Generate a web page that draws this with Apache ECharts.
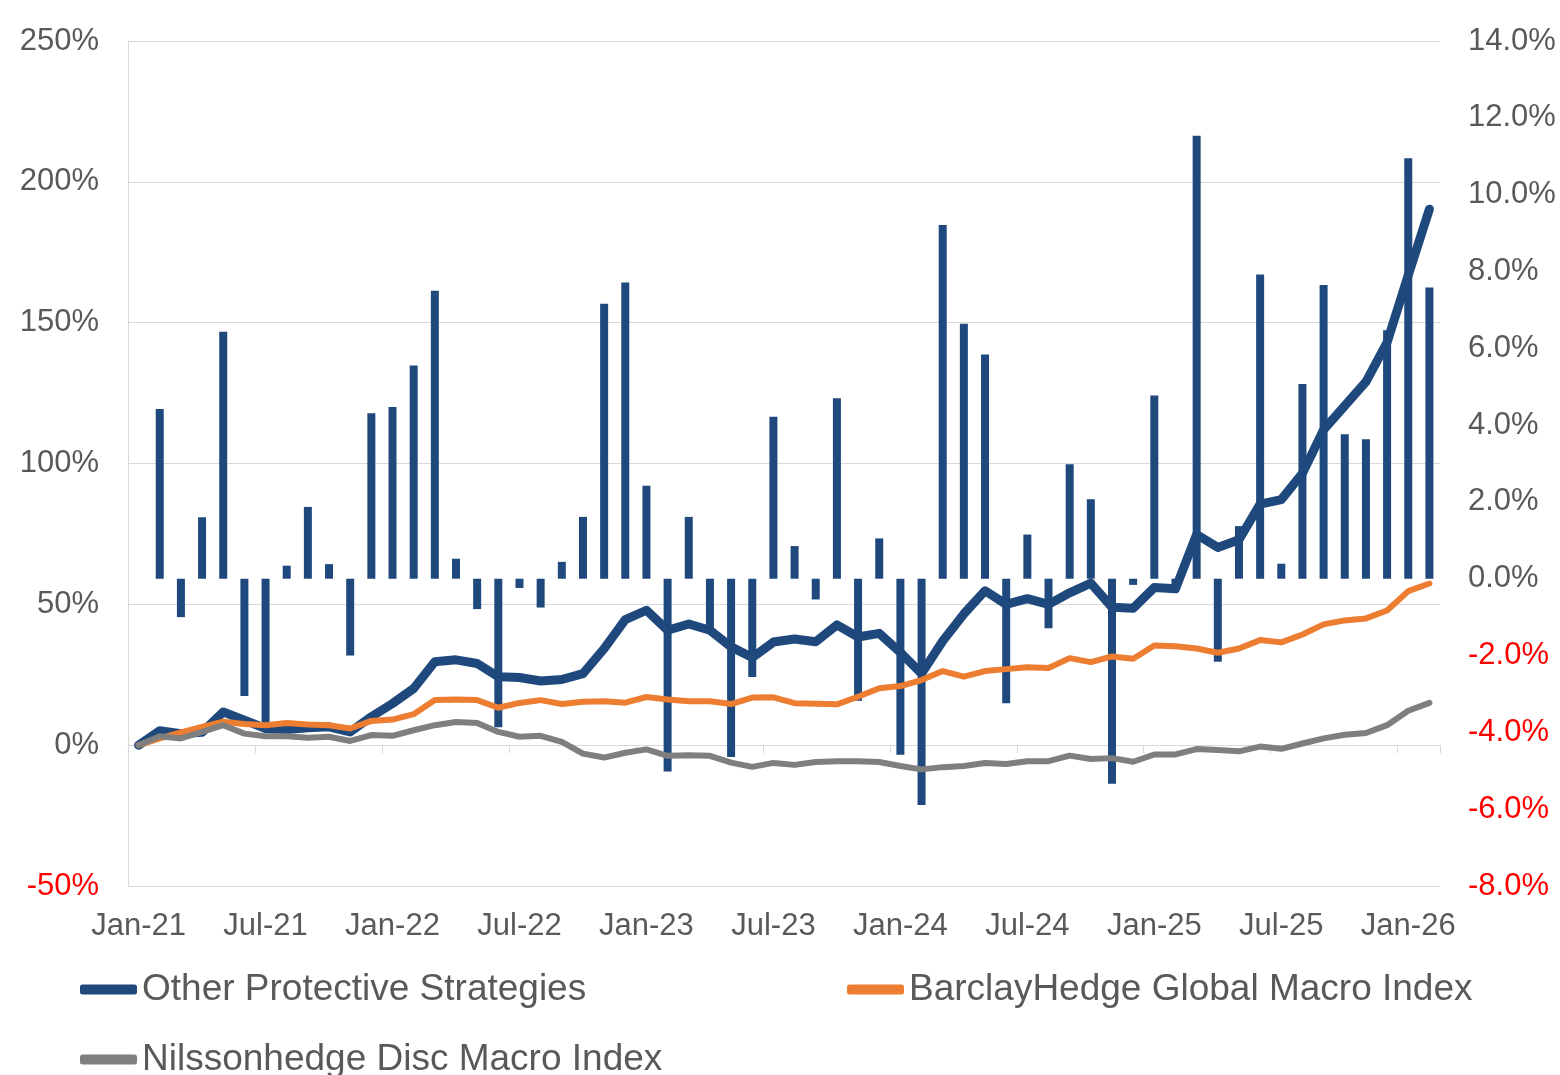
<!DOCTYPE html>
<html>
<head>
<meta charset="utf-8">
<title>Other Protective Strategies</title>
<script src="https://cdn.jsdelivr.net/npm/echarts@6/dist/echarts.min.js"></script>
<style>
    html,body{margin:0;padding:0;background:#fff;}
    #table{width:1560px;height:1075px;}
</style>
</head>
<body>
<div id="table"></div>
<script>
let months = ['Jan-21','Feb-21','Mar-21','Apr-21','May-21','Jun-21','Jul-21','Aug-21','Sep-21','Oct-21','Nov-21','Dec-21',
    'Jan-22','Feb-22','Mar-22','Apr-22','May-22','Jun-22','Jul-22','Aug-22','Sep-22','Oct-22','Nov-22','Dec-22',
    'Jan-23','Feb-23','Mar-23','Apr-23','May-23','Jun-23','Jul-23','Aug-23','Sep-23','Oct-23','Nov-23','Dec-23',
    'Jan-24','Feb-24','Mar-24','Apr-24','May-24','Jun-24','Jul-24','Aug-24','Sep-24','Oct-24','Nov-24','Dec-24',
    'Jan-25','Feb-25','Mar-25','Apr-25','May-25','Jun-25','Jul-25','Aug-25','Sep-25','Oct-25','Nov-25','Dec-25',
    'Jan-26','Feb-26'];

// monthly return of the strategy (right axis, %)
let monthlyReturn = [null, 4.42, -1.00, 1.60, 6.43, -3.05, -3.80, 0.34, 1.87, 0.38, -2.00, 4.31,
    4.47, 5.55, 7.50, 0.52, -0.79, -3.87, -0.24, -0.75, 0.44, 1.61, 7.16, 7.71,
    2.42, -5.02, 1.61, -1.40, -4.64, -2.56, 4.22, 0.85, -0.54, 4.70, -3.18, 1.05,
    -4.58, -5.89, 9.21, 6.64, 5.84, -3.24, 1.15, -1.29, 2.98, 2.07, -5.34, -0.16,
    4.77, -0.30, 11.53, -2.16, 1.37, 7.92, 0.39, 5.07, 7.65, 3.76, 3.63, 6.47,
    10.95, 7.58];

// cumulative returns (left axis, %)
let otherProtective = [0, 5.1, 4.1, 4.6, 11.8, 8.9, 5.9, 5.6, 6.2, 6.5, 4.7, 10.1,
    14.8, 20.1, 29.6, 30.3, 29.0, 24.3, 24.0, 22.8, 23.3, 25.4, 34.3, 44.6,
    47.9, 40.8, 43.0, 40.8, 34.9, 31.1, 36.6, 37.7, 36.7, 42.7, 38.4, 39.7,
    32.9, 25.4, 37.0, 46.6, 54.8, 50.0, 52.0, 50.0, 54.1, 57.5, 49.0, 48.6,
    56.0, 55.5, 74.8, 70.2, 72.9, 85.6, 87.2, 96.5, 112.0, 120.5, 129.0, 143.0,
    166.9, 190.3];
let barclayMacro = [0, 2.4, 4.5, 6.5, 8.3, 7.5, 7.1, 7.9, 7.3, 7.1, 5.9, 8.6,
    9.1, 11.0, 16.0, 16.2, 16.0, 13.3, 15.0, 16.0, 14.6, 15.4, 15.6, 15.1,
    17.1, 16.2, 15.6, 15.6, 14.6, 16.9, 17.0, 14.9, 14.7, 14.5, 17.2, 20.2,
    21.0, 23.1, 26.3, 24.3, 26.3, 27.0, 27.7, 27.4, 30.9, 29.5, 31.5, 30.7,
    35.4, 35.1, 34.3, 32.8, 34.3, 37.3, 36.5, 39.3, 42.9, 44.3, 45.0, 47.8,
    54.7, 57.4];
let nilssonMacro = [0, 3.2, 2.4, 4.7, 7.1, 4.1, 3.2, 3.2, 2.6, 3.0, 1.5, 3.6,
    3.3, 5.3, 7.1, 8.2, 7.9, 4.7, 3.0, 3.3, 1.2, -3.0, -4.4, -2.7,
    -1.5, -3.8, -3.6, -3.8, -6.2, -7.7, -6.3, -7.0, -6.0, -5.7, -5.7, -6.0,
    -7.4, -8.6, -7.8, -7.4, -6.3, -6.7, -5.7, -5.7, -3.7, -4.9, -4.6, -5.9,
    -3.3, -3.3, -1.4, -1.7, -2.2, -0.5, -1.3, 0.6, 2.4, 3.7, 4.3, 7.1,
    12.2, 15.0];

let leftTicks = {min: -50, max: 250, step: 50};
let rightTicks = {min: -8, max: 14, step: 2};

let fontName = '"Liberation Sans", Arial, sans-serif';
let textGray = '#595959';
let gridGray = '#D9D9D9';

let chartView = {
    initTable:()=>{
        var myChart = echarts.init(document.getElementById('table'), null, {renderer: 'canvas'});
        let legendText = {fontSize: 37, color: textGray, fontFamily: fontName};
        let legendBase = {
            orient: 'horizontal', icon: 'roundRect', itemWidth: 57, itemHeight: 10,
            selectedMode: false, textStyle: legendText, padding: 0
        };
        let option = {
            animation: false,
            backgroundColor: '#ffffff',
            textStyle: {fontFamily: fontName},
            grid: {left: 128, right: 120, top: 41, bottom: 189, containLabel: false},
            legend: [
                Object.assign({}, legendBase, {left: 80, top: 971, data: ['Other Protective Strategies']}),
                Object.assign({}, legendBase, {left: 847, top: 971, data: ['BarclayHedge Global Macro Index']}),
                Object.assign({}, legendBase, {left: 80, top: 1041, data: ['Nilssonhedge Disc Macro Index']})
            ],
            xAxis: [
                {
                    type: 'category', data: months, boundaryGap: true, position: 'bottom',
                    axisLine: {show: false, onZero: false},
                    axisTick: {show: false},
                    axisLabel: {interval: 5, margin: 25, fontSize: 31, color: textGray, fontFamily: fontName},
                    splitLine: {show: false}
                },
                {
                    // axis line + ticks sitting on the 0% level
                    type: 'category', data: months, boundaryGap: true, position: 'top',
                    axisLine: {show: true, onZero: true, onZeroAxisIndex: 0, lineStyle: {color: gridGray, width: 1}},
                    axisTick: {show: true, interval: 5, inside: true, length: 8, lineStyle: {color: gridGray, width: 1}},
                    axisLabel: {show: false},
                    splitLine: {show: false}
                }
            ],
            yAxis: [
                {
                    type: 'value', position: 'left',
                    min: leftTicks.min, max: leftTicks.max, interval: leftTicks.step,
                    axisLine: {show: true, lineStyle: {color: gridGray}},
                    axisTick: {show: false},
                    axisLabel: {
                        fontSize: 31, margin: 29, fontFamily: fontName,
                        formatter: (v)=> v + '%',
                        color: (v)=> parseFloat(v) < 0 ? '#FF0000' : textGray
                    },
                    splitLine: {show: true, lineStyle: {color: gridGray, width: 1}}
                },
                {
                    type: 'value', position: 'right',
                    min: rightTicks.min, max: rightTicks.max, interval: rightTicks.step,
                    axisLine: {show: false},
                    axisTick: {show: false},
                    axisLabel: {
                        fontSize: 31, margin: 28, fontFamily: fontName,
                        formatter: (v)=> Number(v).toFixed(1) + '%',
                        color: (v)=> parseFloat(v) < 0 ? '#FF0000' : textGray
                    },
                    splitLine: {show: false}
                }
            ],
            series: [
                {
                    name: 'Monthly Return', type: 'bar', xAxisIndex: 0, yAxisIndex: 1,
                    data: monthlyReturn, barWidth: 8, z: 2,
                    itemStyle: {color: '#1F497D'}
                },
                {
                    name: 'Other Protective Strategies', type: 'line', xAxisIndex: 0, yAxisIndex: 0,
                    data: otherProtective, symbol: 'none', z: 3,
                    lineStyle: {color: '#1F497D', width: 9, cap: 'round', join: 'round'},
                    itemStyle: {color: '#1F497D'}
                },
                {
                    name: 'BarclayHedge Global Macro Index', type: 'line', xAxisIndex: 0, yAxisIndex: 0,
                    data: barclayMacro, symbol: 'none', z: 4,
                    lineStyle: {color: '#ED7D31', width: 6, cap: 'round', join: 'round'},
                    itemStyle: {color: '#ED7D31'}
                },
                {
                    name: 'Nilssonhedge Disc Macro Index', type: 'line', xAxisIndex: 0, yAxisIndex: 0,
                    data: nilssonMacro, symbol: 'none', z: 5,
                    lineStyle: {color: '#7F7F7F', width: 6, cap: 'round', join: 'round'},
                    itemStyle: {color: '#7F7F7F'}
                }
            ]
        };
        myChart.setOption(option);
    }//initTable-------end
};

chartView.initTable();
</script>
</body>
</html>
